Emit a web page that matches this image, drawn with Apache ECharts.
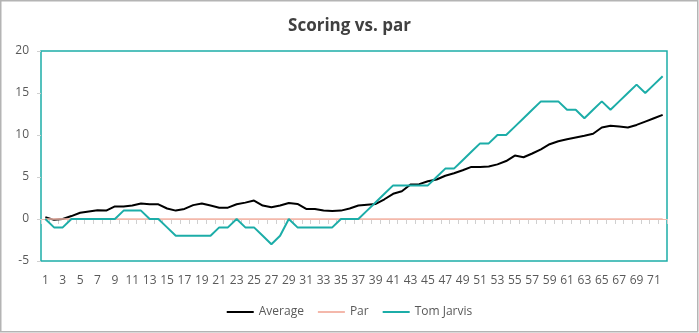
<!DOCTYPE html>
<html>
<head>
<meta charset="utf-8">
<script src="https://cdn.jsdelivr.net/npm/echarts@6/dist/echarts.min.js"></script>
<style>
html,body{margin:0;padding:0;background:#fff;}
#chart{width:699px;height:333px;}
</style>
</head>
<body>
<div id="chart"></div>
<script>
var categories = ['1','2','3','4','5','6','7','8','9','10','11','12','13','14','15','16','17','18','19','20','21','22','23','24','25','26','27','28','29','30','31','32','33','34','35','36','37','38','39','40','41','42','43','44','45','46','47','48','49','50','51','52','53','54','55','56','57','58','59','60','61','62','63','64','65','66','67','68','69','70','71','72'];
var average = [0.2,-0.1,0,0.35,0.75,0.9,1.05,1.0,1.5,1.5, 1.6,1.85,1.75,1.75,1.25,1.0,1.2,1.65,1.85,1.6, 1.35,1.35,1.75,1.95,2.2,1.6,1.4,1.6,1.9,1.8, 1.2,1.2,1.0,0.95,1.0,1.25,1.6,1.7,1.8,2.35, 3.0,3.3,4.1,4.15,4.5,4.7,5.15,5.45,5.8,6.2, 6.2,6.25,6.5,6.9,7.55,7.35,7.8,8.3,8.9,9.25, 9.5,9.7,9.9,10.15,10.9,11.1,11.0,10.9,11.2,11.6,12.0,12.4];
var par = [0,0,0,0,0,0,0,0,0,0, 0,0,0,0,0,0,0,0,0,0, 0,0,0,0,0,0,0,0,0,0, 0,0,0,0,0,0,0,0,0,0, 0,0,0,0,0,0,0,0,0,0, 0,0,0,0,0,0,0,0,0,0, 0,0,0,0,0,0,0,0,0,0,0,0];
var tomJarvis = [0,-1,-1,0,0,0,0,0,0,1, 1,1,0,0,-1,-2,-2,-2,-2,-2, -1,-1,0,-1,-1,-2,-3,-2,0,-1, -1,-1,-1,-1,0,0,0,1,2,3, 4,4,4,4,4,5,6,6,7,8, 9,9,10,10,11,12,13,14,14,14, 13,13,12,13,14,13,14,15,16,15, 16,17];
var seriesNames = ['Average','Par','Tom Jarvis'];
var yMin = -5, yMax = 20, yStep = 5;

var FONT = '"Open Sans", "Noto Sans", sans-serif';
var chart = echarts.init(document.getElementById('chart'), null, {renderer:'canvas'});
chart.setOption({
  animation: false,
  backgroundColor: '#ffffff',
  title: {
    text: 'Scoring vs. par',
    left: 'center',
    top: 13,
    textStyle: {fontFamily: FONT, fontSize: 17, fontWeight: 'bold', color: '#404040'}
  },
  legend: {
    data: seriesNames,
    bottom: 10,
    left: 'center',
    icon: 'rect',
    itemWidth: 27,
    itemHeight: 2,
    itemGap: 14,
    textStyle: {fontFamily: FONT, fontSize: 12, color: '#595959'}
  },
  grid: {
    left: 41, right: 32, top: 51, bottom: 72,
    show: true,
    borderColor: '#1CADA8',
    borderWidth: 1.5,
    backgroundColor: 'transparent'
  },
  xAxis: [{
    type: 'category',
    data: categories,
    boundaryGap: true,
    position: 'bottom',
    axisLine: {show: false, onZero: false},
    axisTick: {show: false},
    axisLabel: {interval: 1, margin: 14, fontFamily: FONT, fontSize: 12, color: '#595959'},
    splitLine: {show: false}
  }, {
    type: 'category',
    data: categories,
    boundaryGap: true,
    position: 'bottom',
    axisLine: {show: true, onZero: true, lineStyle: {color: '#F4B8AB', width: 1}},
    axisTick: {show: true, interval: 0, length: 5, lineStyle: {color: '#D0D0D0', width: 1}},
    axisLabel: {show: false},
    splitLine: {show: false}
  }],
  yAxis: {
    type: 'value',
    min: yMin, max: yMax, interval: yStep,
    axisLine: {show: false},
    axisTick: {show: true, length: 4, lineStyle: {color: '#D0D0D0'}},
    axisLabel: {margin: 12, fontFamily: FONT, fontSize: 12, color: '#595959'},
    splitLine: {show: false}
  },
  series: [{
    name: 'Average', type: 'line', data: average, symbol: 'none',
    lineStyle: {color: '#000000', width: 2}, itemStyle: {color: '#000000'}
  }, {
    name: 'Par', type: 'line', data: par, symbol: 'none',
    lineStyle: {color: '#F4B8AB', width: 1.5}, itemStyle: {color: '#F4B8AB'}
  }, {
    name: 'Tom Jarvis', type: 'line', data: tomJarvis, symbol: 'none',
    lineStyle: {color: '#1CADA8', width: 2}, itemStyle: {color: '#1CADA8'}
  }],
  graphic: [{
    type: 'rect', silent: true,
    shape: {x: 0.75, y: 0.75, width: 697, height: 331},
    style: {fill: 'none', stroke: '#B4B4B4', lineWidth: 1.5}
  }]
});
</script>
</body>
</html>
